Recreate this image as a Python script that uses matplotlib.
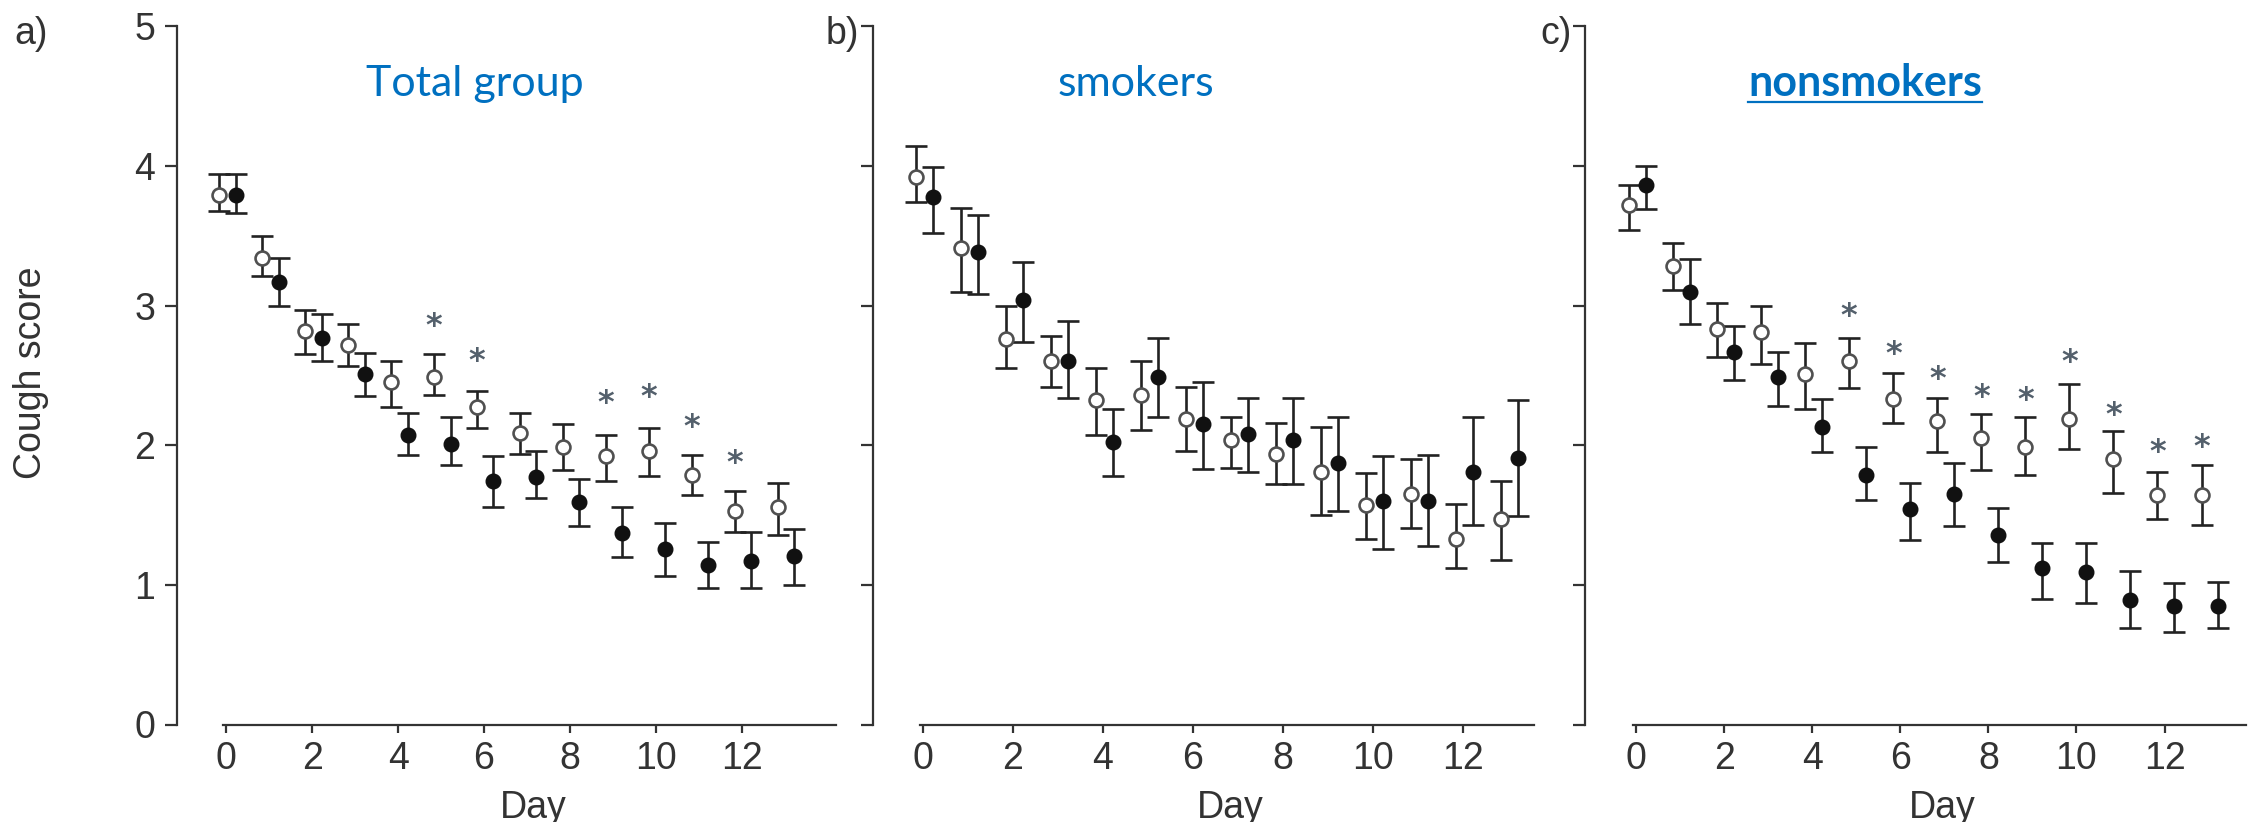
import matplotlib
matplotlib.use("Agg")
from matplotlib import pyplot as plt
from matplotlib import font_manager
import numpy as np

days = np.arange(14)
x_ticks = [0, 2, 4, 6, 8, 10, 12]
y_ticks = [0, 1, 2, 3, 4, 5]

# a) total group
a_open = [3.79, 3.34, 2.82, 2.72, 2.45, 2.49, 2.27, 2.09, 1.99, 1.92, 1.96, 1.79, 1.53, 1.56]
a_open_hi = [3.94, 3.50, 2.97, 2.87, 2.60, 2.65, 2.39, 2.23, 2.15, 2.07, 2.12, 1.93, 1.67, 1.73]
a_open_lo = [3.68, 3.21, 2.65, 2.57, 2.27, 2.36, 2.12, 1.94, 1.82, 1.74, 1.78, 1.64, 1.38, 1.36]
a_fill = [3.79, 3.17, 2.77, 2.51, 2.07, 2.01, 1.74, 1.77, 1.59, 1.37, 1.26, 1.14, 1.17, 1.21]
a_fill_hi = [3.94, 3.34, 2.94, 2.66, 2.23, 2.20, 1.92, 1.96, 1.76, 1.56, 1.44, 1.31, 1.38, 1.40]
a_fill_lo = [3.66, 3.00, 2.60, 2.35, 1.93, 1.86, 1.56, 1.62, 1.42, 1.20, 1.06, 0.98, 0.98, 1.00]
a_star_days = [5, 6, 9, 10, 11, 12]
a_star_y = [2.85, 2.60, 2.30, 2.34, 2.13, 1.87]

# b) smokers
b_open = [3.92, 3.41, 2.76, 2.60, 2.32, 2.36, 2.19, 2.04, 1.94, 1.81, 1.57, 1.65, 1.33, 1.47]
b_open_hi = [4.14, 3.70, 3.00, 2.78, 2.55, 2.60, 2.42, 2.20, 2.16, 2.13, 1.80, 1.90, 1.58, 1.74]
b_open_lo = [3.74, 3.10, 2.55, 2.42, 2.07, 2.11, 1.96, 1.84, 1.72, 1.50, 1.33, 1.41, 1.12, 1.18]
b_fill = [3.78, 3.38, 3.04, 2.60, 2.02, 2.49, 2.15, 2.08, 2.04, 1.87, 1.60, 1.60, 1.81, 1.91]
b_fill_hi = [3.99, 3.65, 3.31, 2.89, 2.26, 2.77, 2.45, 2.34, 2.34, 2.20, 1.92, 1.93, 2.20, 2.32]
b_fill_lo = [3.52, 3.08, 2.74, 2.34, 1.78, 2.20, 1.83, 1.81, 1.72, 1.53, 1.26, 1.28, 1.43, 1.49]
b_star_days = []
b_star_y = []

# c) nonsmokers
c_open = [3.72, 3.28, 2.83, 2.81, 2.51, 2.60, 2.33, 2.17, 2.05, 1.99, 2.19, 1.90, 1.64, 1.64]
c_open_hi = [3.86, 3.45, 3.02, 3.00, 2.73, 2.77, 2.52, 2.34, 2.22, 2.20, 2.44, 2.10, 1.81, 1.86]
c_open_lo = [3.54, 3.11, 2.63, 2.58, 2.26, 2.41, 2.16, 1.95, 1.82, 1.79, 1.97, 1.66, 1.47, 1.43]
c_fill = [3.86, 3.10, 2.67, 2.49, 2.13, 1.79, 1.54, 1.65, 1.36, 1.12, 1.09, 0.89, 0.85, 0.85]
c_fill_hi = [4.00, 3.33, 2.85, 2.67, 2.33, 1.99, 1.73, 1.87, 1.55, 1.30, 1.30, 1.10, 1.01, 1.02]
c_fill_lo = [3.69, 2.87, 2.47, 2.28, 1.95, 1.61, 1.32, 1.42, 1.16, 0.90, 0.87, 0.69, 0.66, 0.69]
c_star_days = [5, 6, 7, 8, 9, 10, 11, 12, 13]
c_star_y = [2.92, 2.65, 2.47, 2.34, 2.32, 2.59, 2.21, 1.95, 1.98]

names = {f.name for f in font_manager.fontManager.ttflist}
narrow = "Liberation Sans Narrow" if "Liberation Sans Narrow" in names else "Liberation Sans"
plt.rcParams["font.family"] = [narrow, "DejaVu Sans"]

ink = "#333333"
blue = "#0070C0"
W, H = 2259, 822
fig = plt.figure(figsize=(W / 100, H / 100), dpi=100)

panels = [
    dict(key="a)", title="Total group", bold=False, left=176.7, right=836.5, xlim=(-1.15, 14.2),
         open=(a_open, a_open_lo, a_open_hi), fill=(a_fill, a_fill_lo, a_fill_hi),
         stars=(a_star_days, a_star_y), tx=475, kx=14, dayx=533),
    dict(key="b)", title="smokers", bold=False, left=873.3, right=1533.5, xlim=(-1.1, 13.57),
         open=(b_open, b_open_lo, b_open_hi), fill=(b_fill, b_fill_lo, b_fill_hi),
         stars=(b_star_days, b_star_y), tx=1136, kx=826, dayx=1230),
    dict(key="c)", title="nonsmokers", bold=True, left=1584.5, right=2246, xlim=(-1.17, 13.85),
         open=(c_open, c_open_lo, c_open_hi), fill=(c_fill, c_fill_lo, c_fill_hi),
         stars=(c_star_days, c_star_y), tx=1865, kx=1540, dayx=1942),
]

y0_px, y5_px = 724.5, 26.2
for i, p in enumerate(panels):
    ax = fig.add_axes([p["left"] / W, 1 - y0_px / H, (p["right"] - p["left"]) / W, (y0_px - y5_px) / H])
    ax.set_xlim(*p["xlim"])
    ax.set_ylim(0, 5)
    for s in ["top", "right"]:
        ax.spines[s].set_visible(False)
    for s in ["left", "bottom"]:
        ax.spines[s].set_color(ink)
        ax.spines[s].set_linewidth(1.6)
    ax.spines["left"].set_bounds(0, 5)
    ax.spines["bottom"].set_bounds(-0.07, p["xlim"][1])
    ax.set_xticks(x_ticks)
    ax.set_yticks(y_ticks)
    ax.tick_params(axis="y", length=8.6, width=1.6, color=ink, labelcolor=ink, labelsize=27, pad=7)
    ax.tick_params(axis="x", length=5.8, width=1.6, color=ink, labelcolor=ink, labelsize=27, pad=6)
    if i > 0:
        ax.set_yticklabels([])

    m, lo, hi = (np.array(v) for v in p["open"])
    xo = days - 0.16
    ax.errorbar(xo, m, yerr=[m - lo, hi - m], fmt="none", ecolor="#222222",
                elinewidth=1.9, capsize=7.8, capthick=1.9, zorder=2)
    ax.plot(xo, m, "o", ms=10, mfc="white", mec="#505050", mew=1.9, ls="none", zorder=4)

    m, lo, hi = (np.array(v) for v in p["fill"])
    xf = days + 0.22
    ax.errorbar(xf, m, yerr=[m - lo, hi - m], fmt="none", ecolor="#222222",
                elinewidth=1.9, capsize=7.8, capthick=1.9, zorder=2)
    ax.plot(xf, m, "o", ms=10.5, mfc="#111111", mec="#111111", mew=1, ls="none", zorder=4)

    sd, sy = p["stars"]
    for d, yv in zip(sd, sy):
        ax.text(d - 0.16, yv, "*", ha="center", va="center", fontsize=23, fontweight="bold",
                color="#54606c", family="DejaVu Sans")

    fig.text(p["kx"] / W, 1 - 16 / H, p["key"], ha="left", va="top", fontsize=27, color=ink)
    fig.text(p["dayx"] / W, 1 - 818 / H, "Day", ha="center", va="baseline", fontsize=27, color=ink)
    t = fig.text(p["tx"] / W, 1 - 96 / H, p["title"], ha="center", va="baseline",
                 fontsize=31, color=blue, family=["Lato", "DejaVu Sans"],
                 fontweight="bold" if p["bold"] else "normal")
    if p["bold"]:
        fig.canvas.draw()
        bb = t.get_window_extent()
        uy = 1 - 102 / H
        fig.add_artist(plt.Line2D([bb.x0 / W, bb.x1 / W], [uy, uy], color=blue, lw=1.6,
                                  transform=fig.transFigure))

fig.text(31.5 / W, 1 - 373 / H, "Cough score", rotation=90, ha="center", va="center",
         fontsize=27, color=ink)

fig.savefig("out.png", dpi=100)
